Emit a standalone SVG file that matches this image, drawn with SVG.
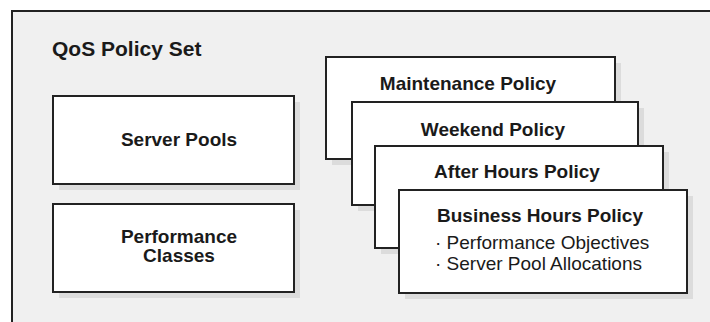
<svg xmlns="http://www.w3.org/2000/svg" width="710" height="322" viewBox="0 0 710 322">
<style>
.box{fill:#ffffff;stroke:#222222;stroke-width:2}
.sh{fill:#dcdcdc}
.b{font-family:"Liberation Sans",Arial,sans-serif;font-weight:bold;font-size:19px;fill:#1a1a1a;text-anchor:middle}
.r{font-family:"Liberation Sans",Arial,sans-serif;font-size:19px;fill:#1a1a1a}
</style>
<rect x="0" y="0" width="710" height="322" fill="#ffffff"/>
<g id="frame">
<rect x="12" y="11" width="720" height="330" fill="#f0f0f0" stroke="#222222" stroke-width="2"/>
<text x="52" y="56" style="font-family:'Liberation Sans',Arial,sans-serif;font-weight:bold;font-size:21px;fill:#1a1a1a">QoS Policy Set</text>
</g>
<g id="server-pools">
<rect class="sh" x="59" y="102" width="241" height="88"/>
<rect class="box" x="53" y="96" width="241" height="88"/>
<text class="b" x="179" y="146">Server Pools</text>
</g>
<g id="performance-classes">
<rect class="sh" x="59" y="210" width="241" height="88"/>
<rect class="box" x="53" y="204" width="241" height="88"/>
<text class="b" x="179" y="243">Performance</text>
<text class="b" x="179" y="262">Classes</text>
</g>
<g id="maintenance-policy">
<rect class="sh" x="332" y="63" width="289" height="102"/>
<rect class="box" x="326" y="57" width="289" height="102"/>
<text class="b" x="468" y="90">Maintenance Policy</text>
</g>
<g id="weekend-policy">
<rect class="sh" x="358" y="108" width="286" height="103"/>
<rect class="box" x="352" y="102" width="286" height="103"/>
<text class="b" x="493" y="136">Weekend Policy</text>
</g>
<g id="after-hours-policy">
<rect class="sh" x="381" y="152" width="288" height="102"/>
<rect class="box" x="375" y="146" width="288" height="102"/>
<text class="b" x="517" y="178">After Hours Policy</text>
</g>
<g id="business-hours-policy">
<rect class="sh" x="405" y="196" width="288" height="103"/>
<rect class="box" x="399" y="190" width="288" height="103"/>
<text class="b" x="540" y="222">Business Hours Policy</text>
<text class="r" x="435" y="249">· Performance Objectives</text>
<text class="r" x="435" y="270">· Server Pool Allocations</text>
</g>
<g id="connectors"></g>
</svg>
